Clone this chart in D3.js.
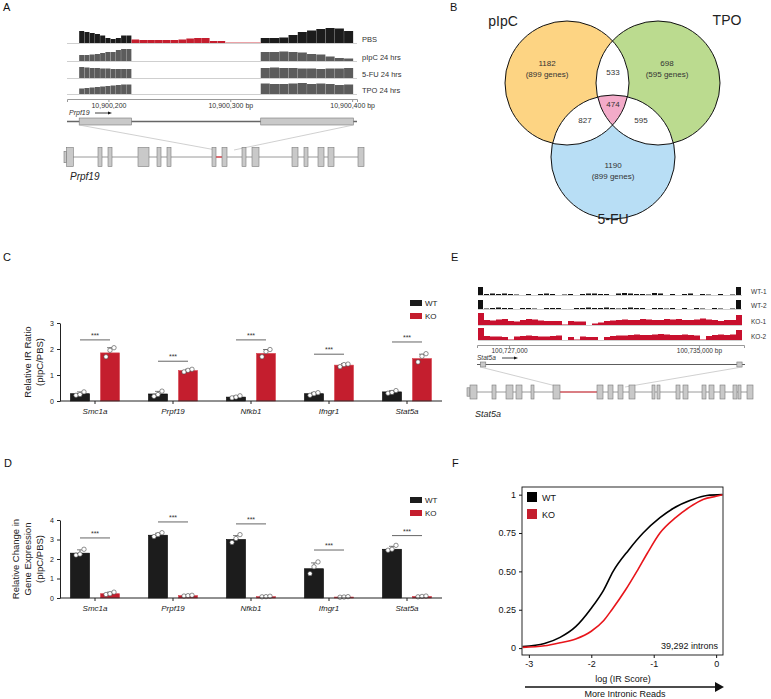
<!DOCTYPE html>
<html>
<head>
<meta charset="utf-8">
<script src="https://cdn.jsdelivr.net/npm/d3@7"></script>
<style>
body{margin:0;background:#fff;}
svg{font-family:"Liberation Sans",Arial,sans-serif;}
</style>
</head>
<body>
<svg id="fig" width="771" height="699"></svg>
<script>
//////data

//panel A - Prpf19 coverage (bp ranges + binned coverage)
var trackNamesA = ["PBS", "pIpC 24 hrs", "5-FU 24 hrs", "TPO 24 hrs"];
var exon1BpA = [10900176, 10900219];
var exon2BpA = [10900325, 10900401];
var intronBpA = [10900219, 10900296];
var intronTailBpA = [10900296, 10900325];
var rulerTicksA = [10900200, 10900300, 10900400];
var covExon1A = [
  [12, 11, 10, 9, 7.5, 5, 4, 5, 7.5, 7.5],
  [6, 6, 6.5, 7, 8, 9, 9, 11, 12, 12],
  [11, 10.5, 10, 10, 9.5, 9.5, 9, 9, 9, 9],
  [5.5, 6, 6.5, 7, 7.5, 8, 8.5, 9, 9.5, 9.5]
];
var covExon2A = [
  [5, 5, 5.5, 8, 11, 12.5, 14, 15, 14.5, 12],
  [9, 9, 9.5, 9, 8.5, 7, 6.5, 4.5, 3, 2.5],
  [10, 10.5, 10, 10, 9.5, 9.5, 9, 9.5, 9.5, 10],
  [10.5, 10, 10, 10.5, 11, 10, 10.5, 10, 9, 9.5]
];
var covIntronPBS = [3.5, 3, 3, 3, 3, 3, 3.5, 4.5, 5, 5, 2, 2];
var covIntronTailPBS = [0.7];
//zoomed gene model (relative units along the gene)
var prpf19Exons = [[0, 2.5, "utr"], [2.5, 9.3], [34, 38], [44, 48], [74, 85], [93, 97], [103, 107],
  [148, 152], [158, 163], [178, 182], [188, 195], [228, 234], [240, 244], [254, 260], [264, 270], [294, 300]];
var prpf19Retained = [152, 158];

//panel B - venn
var vennSets = ["pIpC", "TPO", "5-FU"];
var vennOnly = ["1182", "698", "1190"];
var vennOnlyGenes = ["(899 genes)", "(595 genes)", "(899 genes)"];
var vennPairs = ["533", "827", "595"];   // pIpC&TPO, pIpC&5-FU, TPO&5-FU
var vennAll = "474";

//panels C, D
var genes = ["Smc1a", "Prpf19", "Nfkb1", "Ifngr1", "Stat5a"];
var groups = ["WT", "KO"];
var irWT = [0.28, 0.27, 0.15, 0.28, 0.35];
var irKO = [1.85, 1.17, 1.83, 1.38, 1.63];
var irWTsd = [0.07, 0.1, 0.04, 0.05, 0.05];
var irKOsd = [0.2, 0.05, 0.15, 0.06, 0.17];
var irWTpts = [[0.22, 0.25, 0.35], [0.18, 0.25, 0.38], [0.12, 0.15, 0.2], [0.22, 0.28, 0.32], [0.3, 0.33, 0.4]];
var irKOpts = [[1.7, 1.95, 2.05], [1.12, 1.18, 1.22], [1.7, 1.9, 1.98], [1.32, 1.4, 1.42], [1.5, 1.72, 1.82]];
var irSig = [2.35, 1.53, 2.35, 1.8, 2.27];
var irTicks = [0, 1, 2, 3];

var geWT = [2.3, 3.22, 3.0, 1.5, 2.5];
var geKO = [0.22, 0.12, 0.07, 0.05, 0.08];
var geWTsd = [0.17, 0.1, 0.2, 0.3, 0.15];
var geKOsd = [0.08, 0.03, 0.03, 0.03, 0.03];
var geWTpts = [[2.2, 2.25, 2.5], [3.15, 3.25, 3.35], [2.85, 3.05, 3.25], [1.25, 1.6, 1.85], [2.45, 2.5, 2.7]];
var geKOpts = [[0.18, 0.22, 0.3], [0.1, 0.12, 0.14], [0.06, 0.07, 0.09], [0.04, 0.05, 0.07], [0.06, 0.08, 0.1]];
var geSig = [3.08, 3.9, 3.8, 2.46, 3.2];
var geTicks = [0, 1, 2, 3, 4];

//panel E - Stat5a coverage
var trackNamesE = ["WT-1", "WT-2", "KO-1", "KO-2"];
var rangeBpE = [100725650, 100736900];
var rulerTicksE = [100727000, 100735000];
var covE = [
  [8, 1, 1.5, 1, 1.5, 1, 0.5, 0, 1, 0, 1, 1.5, 1, 0, 0.5, 1, 0, 1, 1.5, 1.5, 1, 1, 0, 1.5, 2, 1.5, 1, 1, 0.5, 2, 1.5, 0, 1, 0, 1, 1.5, 0, 1, 0.5, 0, 1, 0, 0.5, 8],
  [9, 0.5, 1, 1.5, 1, 1, 0, 1, 1, 0.5, 0, 1, 1, 1, 0, 0, 1, 1, 1.5, 1, 1, 1.5, 1, 0.5, 1, 1.5, 1, 1, 0, 1, 1, 0.5, 1, 0, 1, 0, 1, 0.5, 0, 1, 0.5, 0, 0.5, 9],
  [12, 5, 4.5, 5.5, 6, 4, 3.5, 5, 6, 5.5, 4.5, 4, 4, 4, 0.5, 4, 3.5, 3.5, 0, 1.5, 2.5, 4, 4.5, 5, 5.5, 5, 5, 6, 5.5, 5, 5, 6, 5.5, 6, 5, 5, 5.5, 6.5, 5.5, 5, 4, 5, 5, 10],
  [12, 4, 3.5, 3.5, 3, 0.5, 3.5, 4, 4.5, 4, 3.5, 3.5, 4, 4.5, 0, 3, 0.5, 3.5, 3, 3, 0, 3, 4, 4.5, 4.5, 5, 5.5, 5, 5, 5.5, 6, 5.5, 5, 5, 5.5, 5, 4.5, 0.5, 4, 5, 5.5, 5, 5.5, 10]
];
var stat5aExons = [[0, 3, "utr"], [3, 10], [25, 29], [39, 46], [49, 55], [64, 67], [86, 93], [130, 136], [141, 146],
  [151, 156], [162, 168], [185, 188], [190, 193], [209, 213], [216, 221], [235, 239], [242, 247], [253, 258],
  [266, 270], [271, 274], [280, 286]];
var stat5aRetained = [93, 130];

//panel F - cumulative IR score
var cdfWT = [[-3.1, 0.01], [-2.75, 0.03], [-2.5, 0.07], [-2.25, 0.14], [-2, 0.26], [-1.8, 0.38], [-1.65, 0.5],
  [-1.4, 0.64], [-1.17, 0.75], [-0.9, 0.85], [-0.69, 0.91], [-0.4, 0.965], [-0.15, 0.995], [0.1, 1.0]];
var cdfKO = [[-3.1, 0.005], [-2.75, 0.015], [-2.5, 0.035], [-2.25, 0.06], [-2, 0.11], [-1.8, 0.18], [-1.67, 0.25],
  [-1.45, 0.38], [-1.27, 0.5], [-1.1, 0.62], [-0.9, 0.75], [-0.65, 0.85], [-0.42, 0.92], [-0.2, 0.97], [0, 0.99], [0.1, 1.0]];
var cdfXTicks = [-3, -2, -1, 0];
var cdfYTicks = [0, 0.25, 0.5, 0.75, 1];
var cdfYLabels = ["0", "0.25", "0.50", "0.75", "1"];

var red = "#c41e2e";
var svg = d3.select("#fig");

function panelLetter(t, x, y){
  svg.append("text").attr("x", x).attr("y", y).attr("font-size", 11).attr("fill", "#111").text(t);
}

function drawBins(g, x0, x1, vals, base, hScale, color, gap){
  var w = (x1 - x0) / vals.length;
  g.selectAll(null).data(vals).enter().append("rect")
    .attr("x", function(d, i){ return x0 + i * w; })
    .attr("width", w - gap)
    .attr("y", function(d){ return base - hScale(d); })
    .attr("height", function(d){ return hScale(d); })
    .attr("fill", color);
}

function geneModel(g, exons, scale, y, h, retained){
  g.append("line").attr("x1", scale.range()[0]).attr("x2", scale.range()[1])
    .attr("y1", y).attr("y2", y).attr("stroke", "#9a9a9a").attr("stroke-width", 1);
  g.append("line").attr("x1", scale(retained[0])).attr("x2", scale(retained[1]))
    .attr("y1", y).attr("y2", y).attr("stroke", "#e8303a").attr("stroke-width", 1.2);
  g.selectAll(null).data(exons).enter().append("rect")
    .attr("x", function(d){ return scale(d[0]); })
    .attr("width", function(d){ return scale(d[1]) - scale(d[0]); })
    .attr("y", function(d){ return d[2] ? y - h * 0.3 : y - h / 2; })
    .attr("height", function(d){ return d[2] ? h * 0.6 : h; })
    .attr("fill", "#c9c9c9").attr("stroke", "#7a7a7a").attr("stroke-width", 0.6);
}

function arrow(g, x1, x2, y){
  g.append("line").attr("x1", x1).attr("x2", x2 - 3).attr("y1", y).attr("y2", y)
    .attr("stroke", "#111").attr("stroke-width", 0.8);
  g.append("path").attr("d", "M" + (x2 - 4) + "," + (y - 1.6) + "L" + x2 + "," + y + "L" + (x2 - 4) + "," + (y + 1.6) + "Z")
    .attr("fill", "#111");
}

/////////////////////////////////////////////////////////////
// A
function drawA(){
  var g = svg.append("g");
  var xA = d3.scaleLinear().domain([10900166, 10900404]).range([67, 357]);
  var hA = d3.scaleLinear().domain([0, 15]).range([0, 15]);
  var baseA = [43, 61, 78, 94];

  trackNamesA.forEach(function(name, i){
    g.append("line").attr("x1", 67).attr("x2", 357).attr("y1", baseA[i] + 0.5).attr("y2", baseA[i] + 0.5)
      .attr("stroke", "#cfcfcf").attr("stroke-width", 1);
    var col = i == 0 ? "#1c1c1c" : "#5c5c5c";
    drawBins(g, xA(exon1BpA[0]), xA(exon1BpA[1]), covExon1A[i], baseA[i], hA, col, 0.2);
    drawBins(g, xA(exon2BpA[0]), xA(exon2BpA[1]), covExon2A[i], baseA[i], hA, col, 0.2);
    g.append("text").attr("x", 362).attr("y", baseA[i] - 1).attr("font-size", 7.5).attr("fill", "#333").text(name);
  });
  drawBins(g, xA(intronBpA[0]), xA(intronBpA[1]), covIntronPBS, baseA[0], hA, red, 0.2);
  drawBins(g, xA(intronTailBpA[0]), xA(intronTailBpA[1]), covIntronTailPBS, baseA[0], hA, "#e27a82", 0);

  //ruler
  g.append("g").attr("transform", "translate(0,99)")
    .call(d3.axisBottom(xA).tickValues(rulerTicksA).tickSize(3).tickSizeOuter(3)
      .tickFormat(function(d, i){ return d3.format(",")(d) + (i > 0 ? " bp" : ""); }))
    .call(function(a){
      a.selectAll("path,line").attr("stroke", "#999");
      a.selectAll("text").attr("font-size", 7).attr("fill", "#333").attr("dy", "0.35em").attr("y", 0)
        .attr("transform", "translate(0,7)");
    });

  //gene track
  g.append("text").attr("x", 69).attr("y", 115).attr("font-size", 7).attr("font-style", "italic").attr("fill", "#333").text("Prpf19");
  arrow(g, 95, 112, 113);
  g.append("line").attr("x1", 67).attr("x2", 357).attr("y1", 121.5).attr("y2", 121.5).attr("stroke", "#666").attr("stroke-width", 1.6);
  [exon1BpA, exon2BpA].forEach(function(e){
    g.append("rect").attr("x", xA(e[0])).attr("width", xA(e[1]) - xA(e[0])).attr("y", 118).attr("height", 7)
      .attr("fill", "#c9c9c9").attr("stroke", "#777").attr("stroke-width", 0.6);
  });

  //zoom lines + full gene model
  var mA = d3.scaleLinear().domain([0, 300]).range([64, 364]);
  g.append("line").attr("x1", xA(exon1BpA[0])).attr("y1", 125).attr("x2", mA(prpf19Retained[0])).attr("y2", 150)
    .attr("stroke", "#bbb").attr("stroke-width", 0.7);
  g.append("line").attr("x1", xA(exon2BpA[1])).attr("y1", 125).attr("x2", mA(prpf19Retained[1]) + 12).attr("y2", 150)
    .attr("stroke", "#bbb").attr("stroke-width", 0.7);
  geneModel(g, prpf19Exons, mA, 157, 19, prpf19Retained);
  g.append("text").attr("x", 70).attr("y", 180).attr("font-size", 10).attr("font-style", "italic").attr("fill", "#222").text("Prpf19");
}

/////////////////////////////////////////////////////////////
// B
function drawB(){
  var g = svg.append("g");
  var circles = [{cx: 567, cy: 83, r: 62, fill: "#fdd483"}, {cx: 658, cy: 83, r: 62, fill: "#bbdb8f"}, {cx: 613, cy: 157, r: 62, fill: "#b8def5"}];
  var defs = svg.append("defs");
  circles.forEach(function(c, i){
    defs.append("clipPath").attr("id", "vc" + i).append("circle").attr("cx", c.cx).attr("cy", c.cy).attr("r", c.r);
  });
  g.selectAll(null).data(circles).enter().append("circle")
    .attr("cx", function(d){ return d.cx; }).attr("cy", function(d){ return d.cy; }).attr("r", function(d){ return d.r; })
    .attr("fill", function(d){ return d.fill; });
  [[0, 1], [0, 2], [1, 2]].forEach(function(p){
    g.append("g").attr("clip-path", "url(#vc" + p[1] + ")")
      .append("circle").attr("cx", circles[p[0]].cx).attr("cy", circles[p[0]].cy).attr("r", circles[p[0]].r).attr("fill", "#fff");
  });
  g.append("g").attr("clip-path", "url(#vc2)").append("g").attr("clip-path", "url(#vc1)")
    .append("circle").attr("cx", circles[0].cx).attr("cy", circles[0].cy).attr("r", circles[0].r).attr("fill", "#f3abc9");
  g.selectAll(null).data(circles).enter().append("circle")
    .attr("cx", function(d){ return d.cx; }).attr("cy", function(d){ return d.cy; }).attr("r", function(d){ return d.r; })
    .attr("fill", "none").attr("stroke", "#111").attr("stroke-width", 1);

  var setPos = [[503, 26], [727, 25], [613, 224]];
  vennSets.forEach(function(s, i){
    g.append("text").attr("x", setPos[i][0]).attr("y", setPos[i][1]).attr("text-anchor", "middle")
      .attr("font-size", 14).attr("fill", "#222").text(s);
  });
  var onlyPos = [[547, 63], [667, 63], [613, 165]];
  vennOnly.forEach(function(s, i){
    g.append("text").attr("x", onlyPos[i][0]).attr("y", onlyPos[i][1] + 3).attr("text-anchor", "middle").attr("font-size", 8).attr("fill", "#333").text(s);
    g.append("text").attr("x", onlyPos[i][0]).attr("y", onlyPos[i][1] + 14).attr("text-anchor", "middle").attr("font-size", 8).attr("fill", "#333").text(vennOnlyGenes[i]);
  });
  var pairPos = [[613, 72], [585, 120], [641, 120]];
  vennPairs.forEach(function(s, i){
    g.append("text").attr("x", pairPos[i][0]).attr("y", pairPos[i][1] + 3).attr("text-anchor", "middle").attr("font-size", 8).attr("fill", "#333").text(s);
  });
  g.append("text").attr("x", 613).attr("y", 107).attr("text-anchor", "middle").attr("font-size", 8).attr("fill", "#333").text(vennAll);
}

/////////////////////////////////////////////////////////////
// C and D
function barChart(o){
  var g = svg.append("g");
  var x = d3.scaleBand().domain(genes).range([56, 446]);
  var xg = d3.scalePoint().domain(groups).range([-15, 15]);
  var y = d3.scaleLinear().domain([0, o.max]).range([o.y0, o.y0 - o.max * o.unit]);
  var bw = 19;
  var series = [{k: "WT", v: o.wt, sd: o.wtSd, pts: o.wtPts, fill: "#1c1c1c", stroke: "#000"},
                {k: "KO", v: o.ko, sd: o.koSd, pts: o.koPts, fill: red, stroke: "#d8404c"}];
  var cx = function(gene, k){ return x(gene) + x.bandwidth() / 2 + xg(k); };

  series.forEach(function(s){
    genes.forEach(function(gene, i){
      var c = cx(gene, s.k);
      g.append("line").attr("x1", c).attr("x2", c).attr("y1", y(s.v[i])).attr("y2", y(s.v[i] + s.sd[i]))
        .attr("stroke", "#444").attr("stroke-width", 0.7);
      g.append("line").attr("x1", c - 3).attr("x2", c + 3).attr("y1", y(s.v[i] + s.sd[i])).attr("y2", y(s.v[i] + s.sd[i]))
        .attr("stroke", "#444").attr("stroke-width", 0.7);
      g.append("rect").attr("x", c - bw / 2).attr("width", bw).attr("y", y(s.v[i])).attr("height", y(0) - y(s.v[i]))
        .attr("fill", s.fill).attr("stroke", s.stroke).attr("stroke-width", 0.6);
      g.selectAll(null).data(s.pts[i]).enter().append("circle")
        .attr("cx", function(d, j){ return c + (j - 1) * 4; })
        .attr("cy", function(d){ return y(d); })
        .attr("r", 2.2).attr("fill", "#fff").attr("stroke", "#444").attr("stroke-width", 0.6);
    });
  });

  //significance
  genes.forEach(function(gene, i){
    var c = x(gene) + x.bandwidth() / 2;
    g.append("line").attr("x1", c - 15).attr("x2", c + 15).attr("y1", y(o.sig[i])).attr("y2", y(o.sig[i]))
      .attr("stroke", "#555").attr("stroke-width", 0.9);
    g.append("text").attr("x", c).attr("y", y(o.sig[i]) - 2).attr("text-anchor", "middle").attr("font-size", 7).attr("fill", "#333").text("***");
  });

  //axes
  g.append("g").attr("transform", "translate(60,0)")
    .call(d3.axisLeft(y).tickValues(o.ticks).tickSize(3).tickSizeOuter(0).tickFormat(d3.format("d")))
    .call(function(a){ a.selectAll("path,line").attr("stroke", "#222"); a.selectAll("text").attr("font-size", 7).attr("fill", "#222"); });
  g.append("line").attr("x1", 60).attr("x2", 442).attr("y1", o.y0).attr("y2", o.y0).attr("stroke", "#222");
  genes.forEach(function(gene){
    var c = x(gene) + x.bandwidth() / 2;
    g.append("line").attr("x1", c).attr("x2", c).attr("y1", o.y0).attr("y2", o.y0 + 3).attr("stroke", "#222");
    g.append("text").attr("x", c).attr("y", o.y0 + 13).attr("text-anchor", "middle").attr("font-size", 8)
      .attr("font-style", "italic").attr("fill", "#222").text(gene);
  });
  var mid = o.y0 - o.max * o.unit / 2;
  o.label.forEach(function(t, i){
    g.append("text").attr("transform", "translate(" + (o.labelX + i * 12) + "," + mid + ") rotate(-90)")
      .attr("text-anchor", "middle").attr("font-size", 9.5).attr("fill", "#222").text(t);
  });

  //legend
  series.forEach(function(s, i){
    g.append("rect").attr("x", 410).attr("y", o.legendY + i * 13).attr("width", 12).attr("height", 6).attr("fill", s.fill);
    g.append("text").attr("x", 425).attr("y", o.legendY + i * 13 + 6).attr("font-size", 8).attr("fill", "#222").text(s.k);
  });
}

/////////////////////////////////////////////////////////////
// E
function drawE(){
  var g = svg.append("g");
  var xE = d3.scaleLinear().domain(rangeBpE).range([477, 744]);
  var hE = d3.scaleLinear().domain([0, 12]).range([0, 12]);
  var baseE = [295, 309, 325, 340];
  trackNamesE.forEach(function(name, i){
    g.append("line").attr("x1", 478).attr("x2", 742).attr("y1", baseE[i] + 0.5).attr("y2", baseE[i] + 0.5)
      .attr("stroke", "#cfcfcf").attr("stroke-width", 1);
    drawBins(g, 478, 742, covE[i], baseE[i], hE, i < 2 ? "#111" : "#c8102e", i < 2 ? 1 : 0);
    g.append("text").attr("x", 751).attr("y", baseE[i] - 1).attr("font-size", 6.5).attr("fill", "#333").text(name);
  });
  g.append("g").attr("transform", "translate(0,345)")
    .call(d3.axisBottom(xE).tickValues(rulerTicksE).tickSize(3).tickSizeOuter(3)
      .tickFormat(function(d, i){ return d3.format(",")(d) + (i > 0 ? " bp" : ""); }))
    .call(function(a){
      a.selectAll("path,line").attr("stroke", "#999");
      a.selectAll("text").attr("font-size", 6.5).attr("fill", "#333").attr("y", 0).attr("dy", "0.35em")
        .attr("transform", "translate(0,6)");
    });
  g.append("text").attr("x", 477).attr("y", 360).attr("font-size", 6.5).attr("font-style", "italic").attr("fill", "#333").text("Stat5a");
  arrow(g, 502, 518, 358);
  g.append("line").attr("x1", 477).attr("x2", 745).attr("y1", 364.5).attr("y2", 364.5).attr("stroke", "#333").attr("stroke-width", 0.8);
  [[100725790, 100726020], [100736600, 100736820]].forEach(function(e){
    g.append("rect").attr("x", xE(e[0])).attr("width", xE(e[1]) - xE(e[0])).attr("y", 362).attr("height", 5)
      .attr("fill", "#c9c9c9").attr("stroke", "#777").attr("stroke-width", 0.6);
  });
  var mE = d3.scaleLinear().domain([0, 286]).range([467, 753]);
  g.append("line").attr("x1", xE(100725790)).attr("y1", 367).attr("x2", mE(stat5aRetained[0])).attr("y2", 387)
    .attr("stroke", "#bbb").attr("stroke-width", 0.7);
  g.append("line").attr("x1", xE(100736820)).attr("y1", 367).attr("x2", mE(stat5aRetained[1]) + 28).attr("y2", 387)
    .attr("stroke", "#bbb").attr("stroke-width", 0.7);
  geneModel(g, stat5aExons, mE, 392, 14, stat5aRetained);
  g.append("text").attr("x", 475).attr("y", 417).attr("font-size", 9).attr("font-style", "italic").attr("fill", "#222").text("Stat5a");
}

/////////////////////////////////////////////////////////////
// F
function drawF(){
  var g = svg.append("g");
  var x = d3.scaleLinear().domain([-3.11, 0.11]).range([522, 723]);
  var y = d3.scaleLinear().domain([-0.045, 1.05]).range([655, 487]);
  var line = d3.line().x(function(d){ return x(d[0]); }).y(function(d){ return y(d[1]); }).curve(d3.curveMonotoneX);
  g.append("path").attr("d", line(cdfWT)).attr("fill", "none").attr("stroke", "#000").attr("stroke-width", 1.6);
  g.append("path").attr("d", line(cdfKO)).attr("fill", "none").attr("stroke", "#e8151b").attr("stroke-width", 1.6);
  g.append("rect").attr("x", 522).attr("y", 487).attr("width", 201).attr("height", 168)
    .attr("fill", "none").attr("stroke", "#111").attr("stroke-width", 0.9);
  g.append("g").attr("transform", "translate(522,0)")
    .call(d3.axisLeft(y).tickValues(cdfYTicks).tickSize(3).tickSizeOuter(0)
      .tickFormat(function(d, i){ return cdfYLabels[i]; }))
    .call(function(a){ a.select(".domain").remove(); a.selectAll("line").attr("stroke", "#111"); a.selectAll("text").attr("font-size", 9).attr("fill", "#111"); });
  g.append("g").attr("transform", "translate(0,655)")
    .call(d3.axisBottom(x).tickValues(cdfXTicks).tickSize(3).tickSizeOuter(0).tickFormat(function(d){ return String(d); }))
    .call(function(a){ a.select(".domain").remove(); a.selectAll("line").attr("stroke", "#111"); a.selectAll("text").attr("font-size", 9).attr("fill", "#111"); });

  [["WT", "#000"], ["KO", red]].forEach(function(l, i){
    g.append("rect").attr("x", 527).attr("y", 492 + i * 17).attr("width", 10).attr("height", 10).attr("fill", l[1]);
    g.append("text").attr("x", 542).attr("y", 501 + i * 17).attr("font-size", 9).attr("fill", "#111").text(l[0]);
  });
  g.append("text").attr("x", 718).attr("y", 649).attr("text-anchor", "end").attr("font-size", 9).attr("fill", "#111").text("39,292 introns");
  g.append("text").attr("x", 623).attr("y", 682).attr("text-anchor", "middle").attr("font-size", 9).attr("fill", "#111").text("log (IR Score)");
  g.append("line").attr("x1", 525).attr("x2", 716).attr("y1", 687).attr("y2", 687).attr("stroke", "#111").attr("stroke-width", 1.4);
  g.append("path").attr("d", "M715,682L724,687L715,692Z").attr("fill", "#111");
  g.append("text").attr("x", 625).attr("y", 697).attr("text-anchor", "middle").attr("font-size", 9).attr("fill", "#111").text("More Intronic Reads");
}

panelLetter("A", 3, 11);
panelLetter("B", 450, 11);
panelLetter("C", 3, 261);
panelLetter("E", 451, 261);
panelLetter("D", 4, 467);
panelLetter("F", 452, 467);

drawA();
drawB();
barChart({y0: 401, unit: 26, max: 3, ticks: irTicks, wt: irWT, ko: irKO, wtSd: irWTsd, koSd: irKOsd,
  wtPts: irWTpts, koPts: irKOpts, sig: irSig, label: ["Relative IR Ratio", "(pIpC/PBS)"], labelX: 31, legendY: 300});
barChart({y0: 598, unit: 19.5, max: 4, ticks: geTicks, wt: geWT, ko: geKO, wtSd: geWTsd, koSd: geKOsd,
  wtPts: geWTpts, koPts: geKOpts, sig: geSig, label: ["Relative Change in", "Gene Expression", "(pIpC/PBS)"], labelX: 19, legendY: 497});
drawE();
drawF();
</script>
</body>
</html>
